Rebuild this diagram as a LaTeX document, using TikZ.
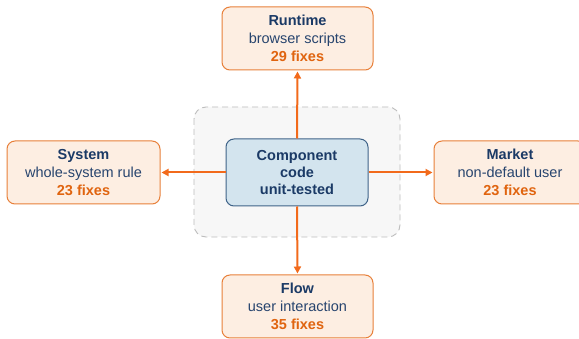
\documentclass[tikz,border=0pt]{standalone}
\usepackage{fontspec}
\setmainfont{Liberation Sans}
\usetikzlibrary{arrows.meta}
\definecolor{boxfill}{HTML}{FDEEE2}
\definecolor{boxdraw}{HTML}{E8803A}
\definecolor{titlecol}{HTML}{1B3A66}
\definecolor{subcol}{HTML}{27446E}
\definecolor{fixcol}{HTML}{E0640F}
\definecolor{arrowcol}{HTML}{F26A1B}
\definecolor{corefill}{HTML}{D3E4EE}
\definecolor{coredraw}{HTML}{3F6388}
\definecolor{groupfill}{HTML}{F7F7F7}
\definecolor{groupdraw}{HTML}{BDBDBD}
\tikzset{
  outbox/.style={draw=boxdraw, fill=boxfill, line width=1pt, rounded corners=8pt,
    minimum height=63pt, inner sep=0pt, align=center,
    font=\fontsize{14.5}{17.8}\selectfont, text=subcol},
  corebox/.style={draw=coredraw, fill=corefill, line width=1pt, rounded corners=8pt,
    minimum width=142pt, minimum height=67pt, inner sep=0pt, align=center,
    font=\fontsize{14.5}{16.8}\selectfont\bfseries, text=titlecol},
  groupbox/.style={draw=groupdraw, fill=groupfill, line width=0.9pt, dash pattern=on 6pt off 4pt, rounded corners=12pt},
  link/.style={draw=arrowcol, line width=2pt, -{Triangle[length=7pt,width=7pt]}, shorten >=1pt},
}
\newcommand{\ttl}[1]{{\bfseries\color{titlecol}#1}}
\newcommand{\fx}[1]{{\bfseries\color{fixcol}#1}}
\begin{document}
\begin{tikzpicture}[x=1pt,y=-1pt]
\clip (0,0) rectangle (579,339);
\fill[white] (0,0) rectangle (579,339);
\draw[groupbox] (194,107) rectangle (400,237);
\node[corebox] (core) at (297,172.5) {Component\\code\\unit-tested};
\node[outbox, minimum width=151pt] (runtime) at (297.5,38.5) {\ttl{Runtime}\\browser scripts\\\fx{29 fixes}};
\node[outbox, minimum width=153pt] (system) at (83.5,172.5) {\ttl{System}\\whole-system rule\\\fx{23 fixes}};
\node[outbox, minimum width=152pt] (market) at (510,172.5) {\ttl{Market}\\non-default user\\\fx{23 fixes}};
\node[outbox, minimum width=151pt] (flow) at (297.5,306.5) {\ttl{Flow}\\user interaction\\\fx{35 fixes}};
\draw[link] (core.north) -- (runtime.south);
\draw[link] (core.west) -- (system.east);
\draw[link] (core.east) -- (market.west);
\draw[link] (core.south) -- (flow.north);
\end{tikzpicture}
\end{document}
